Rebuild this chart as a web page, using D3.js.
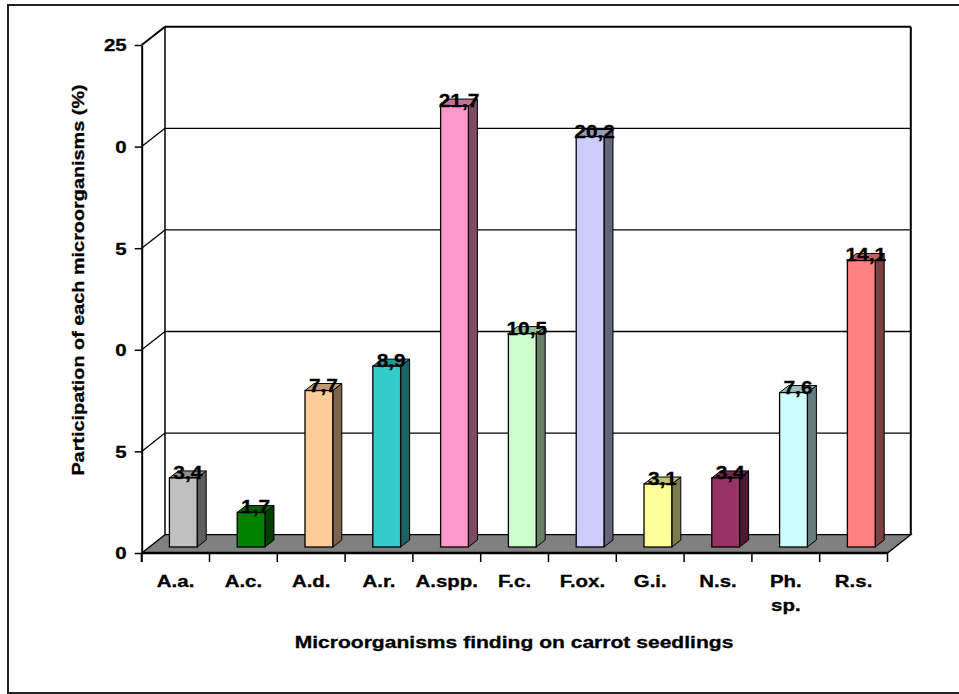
<!DOCTYPE html>
<html>
<head>
<meta charset="utf-8">
<script src="https://cdn.jsdelivr.net/npm/d3@7"></script>
<style>
  body { margin: 0; background: #fff; }
  text { font-family: Arial, "Liberation Sans", sans-serif; font-weight: bold; fill: #000;
         stroke: #000; stroke-width: 0.3px; }
</style>
</head>
<body>
<script>
// Chart data
var categories = ["A.a.", "A.c.", "A.d.", "A.r.", "A.spp.", "F.c.", "F.ox.", "G.i.", "N.s.", "Ph. sp.", "R.s."];
var values = [3.4, 1.7, 7.7, 8.9, 21.7, 10.5, 20.2, 3.1, 3.4, 7.6, 14.1];
var barColors = ["#C0C0C0", "#008000", "#FFCC99", "#33CCCC", "#FF99CC", "#CCFFCC",
                 "#CCCCFF", "#FFFF99", "#993366", "#CCFFFF", "#FF8080"];
var yTicks = [0, 5, 10, 15, 20, 25];
var yTickLabels = ["0", "5", "0", "5", "0", "25"];

// Layout
var W = 959, H = 694;
var plotLeft = 141.7, plotRight = 887.5, plotTop = 45, plotBottom = 553;
var depth = {dx: 23.3, dy: -18.3};     // wall depth
var barOff = {dx: 7.7, dy: -6};         // bar front plane offset
var barDepth = {dx: 9, dy: -7};         // bar thickness
var sx = 1.24;                          // text looks horizontally stretched

var svg = d3.select("body").append("svg")
    .attr("width", W)
    .attr("height", H);

// outer frame
svg.append("rect")
    .attr("x", 8).attr("y", 5)
    .attr("width", 960).attr("height", 688)
    .attr("fill", "none")
    .attr("stroke", "#222")
    .attr("stroke-width", 2);

var x = d3.scaleBand().domain(categories).range([plotLeft, plotRight]);
var y = d3.scaleLinear().domain([0, 25]).range([plotBottom, plotTop]);

// back wall + side wall gridlines
var grid = svg.append("g").attr("stroke", "#000").attr("fill", "none");
yTicks.forEach(function(t) {
    if (t === 0) return;
    var yy = y(t);
    grid.append("line")
        .attr("x1", plotLeft).attr("y1", yy)
        .attr("x2", plotLeft + depth.dx).attr("y2", yy + depth.dy)
        .attr("stroke-width", t === 25 ? 2 : 1.3);
    grid.append("line")
        .attr("x1", plotLeft + depth.dx).attr("y1", yy + depth.dy)
        .attr("x2", plotRight + depth.dx).attr("y2", yy + depth.dy)
        .attr("stroke-width", t === 25 ? 2 : 1.3);
});
// back wall verticals
grid.append("line")
    .attr("x1", plotLeft + depth.dx).attr("y1", y(25) + depth.dy)
    .attr("x2", plotLeft + depth.dx).attr("y2", plotBottom + depth.dy)
    .attr("stroke-width", 1.5);
grid.append("line")
    .attr("x1", plotRight + depth.dx).attr("y1", y(25) + depth.dy)
    .attr("x2", plotRight + depth.dx).attr("y2", plotBottom + depth.dy)
    .attr("stroke-width", 2);

// floor
svg.append("path")
    .attr("d", "M" + plotLeft + "," + plotBottom + "L" + plotRight + "," + plotBottom +
        "L" + (plotRight + depth.dx) + "," + (plotBottom + depth.dy) +
        "L" + (plotLeft + depth.dx) + "," + (plotBottom + depth.dy) + "Z")
    .attr("fill", "#808080")
    .attr("stroke", "#000")
    .attr("stroke-width", 1.3);

// bars
var bw = x.bandwidth() * 0.41;
var bars = svg.append("g").selectAll("g")
    .data(categories)
    .enter().append("g");

bars.each(function(c, i) {
    var g = d3.select(this);
    var x0 = x(c) + (x.bandwidth() - bw) / 2 + barOff.dx;
    var x1 = x0 + bw;
    var yb = y(0) + barOff.dy;
    var yt = y(values[i]) + barOff.dy;
    var col = d3.rgb(barColors[i]);
    // side
    g.append("path")
        .attr("d", "M" + x1 + "," + yb + "L" + (x1 + barDepth.dx) + "," + (yb + barDepth.dy) +
            "L" + (x1 + barDepth.dx) + "," + (yt + barDepth.dy) + "L" + x1 + "," + yt + "Z")
        .attr("fill", col.darker(2))
        .attr("stroke", "#000").attr("stroke-width", 1);
    // top
    g.append("path")
        .attr("d", "M" + x0 + "," + yt + "L" + x1 + "," + yt +
            "L" + (x1 + barDepth.dx) + "," + (yt + barDepth.dy) +
            "L" + (x0 + barDepth.dx) + "," + (yt + barDepth.dy) + "Z")
        .attr("fill", col.darker(0.8))
        .attr("stroke", "#000").attr("stroke-width", 1);
    // front
    g.append("rect")
        .attr("x", x0).attr("y", yt)
        .attr("width", bw).attr("height", yb - yt)
        .attr("fill", col)
        .attr("stroke", "#000").attr("stroke-width", 1.3);
    // value label
    g.append("text")
        .attr("transform", "translate(" + ((x0 + x1) / 2 + barDepth.dx / 2) + "," + (yt + 1) + ") scale(1.1,1)")
        .attr("text-anchor", "middle")
        .style("font-size", "19px")
        .text(String(values[i]).replace(".", ","));
});

// y axis
var yAxis = svg.append("g")
    .attr("transform", "translate(" + plotLeft + ",0)")
    .call(d3.axisLeft(y).tickValues(yTicks)
        .tickFormat(function(d, i) { return yTickLabels[i]; })
        .tickSize(7).tickSizeOuter(0));
yAxis.select(".domain").attr("stroke-width", 2);
yAxis.selectAll(".tick line").attr("stroke-width", 1.5);
yAxis.selectAll(".tick text")
    .attr("x", -15 / sx).attr("dy", "0.36em")
    .attr("transform", "scale(" + sx + ",1)")
    .style("font-size", "16.5px").style("font-family", "Arial, 'Liberation Sans', sans-serif")
    .style("font-weight", "bold");
svg.append("line")
    .attr("x1", plotLeft).attr("y1", plotBottom).attr("x2", plotLeft).attr("y2", plotBottom + 9)
    .attr("stroke", "#000").attr("stroke-width", 2);

// x axis
svg.append("line")
    .attr("x1", plotLeft).attr("y1", plotBottom).attr("x2", plotRight).attr("y2", plotBottom)
    .attr("stroke", "#000").attr("stroke-width", 2.5);
var xAxis = svg.append("g")
    .attr("transform", "translate(0," + plotBottom + ")")
    .call(d3.axisBottom(x).tickSize(0));
xAxis.select(".domain").remove();
xAxis.selectAll(".tick text").remove();
xAxis.selectAll(".tick").each(function(c) {
    var words = c.split(" ");
    var t = d3.select(this).append("text")
        .attr("text-anchor", "middle")
        .attr("transform", "scale(" + sx + ",1)")
        .style("font-size", "16.5px");
    words.forEach(function(w, k) {
        t.append("tspan").attr("x", 0).attr("y", 34 + k * 24).text(w);
    });
});
var bounds = categories.map(function(c) { return x(c); }).concat([plotRight]);
svg.append("g").selectAll("line")
    .data(bounds)
    .enter().append("line")
    .attr("x1", function(d) { return d; }).attr("x2", function(d) { return d; })
    .attr("y1", plotBottom).attr("y2", plotBottom + 9)
    .attr("stroke", "#000").attr("stroke-width", 1.5);

// titles
svg.append("text")
    .attr("transform", "translate(514,648) scale(" + sx + ",1)")
    .attr("text-anchor", "middle")
    .style("font-size", "17px")
    .text("Microorganisms finding on carrot seedlings");
svg.append("text")
    .attr("transform", "translate(84,280) rotate(-90) scale(" + sx + ",1)")
    .attr("text-anchor", "middle")
    .style("font-size", "16px")
    .text("Participation of each microorganisms (%)");
</script>
</body>
</html>
